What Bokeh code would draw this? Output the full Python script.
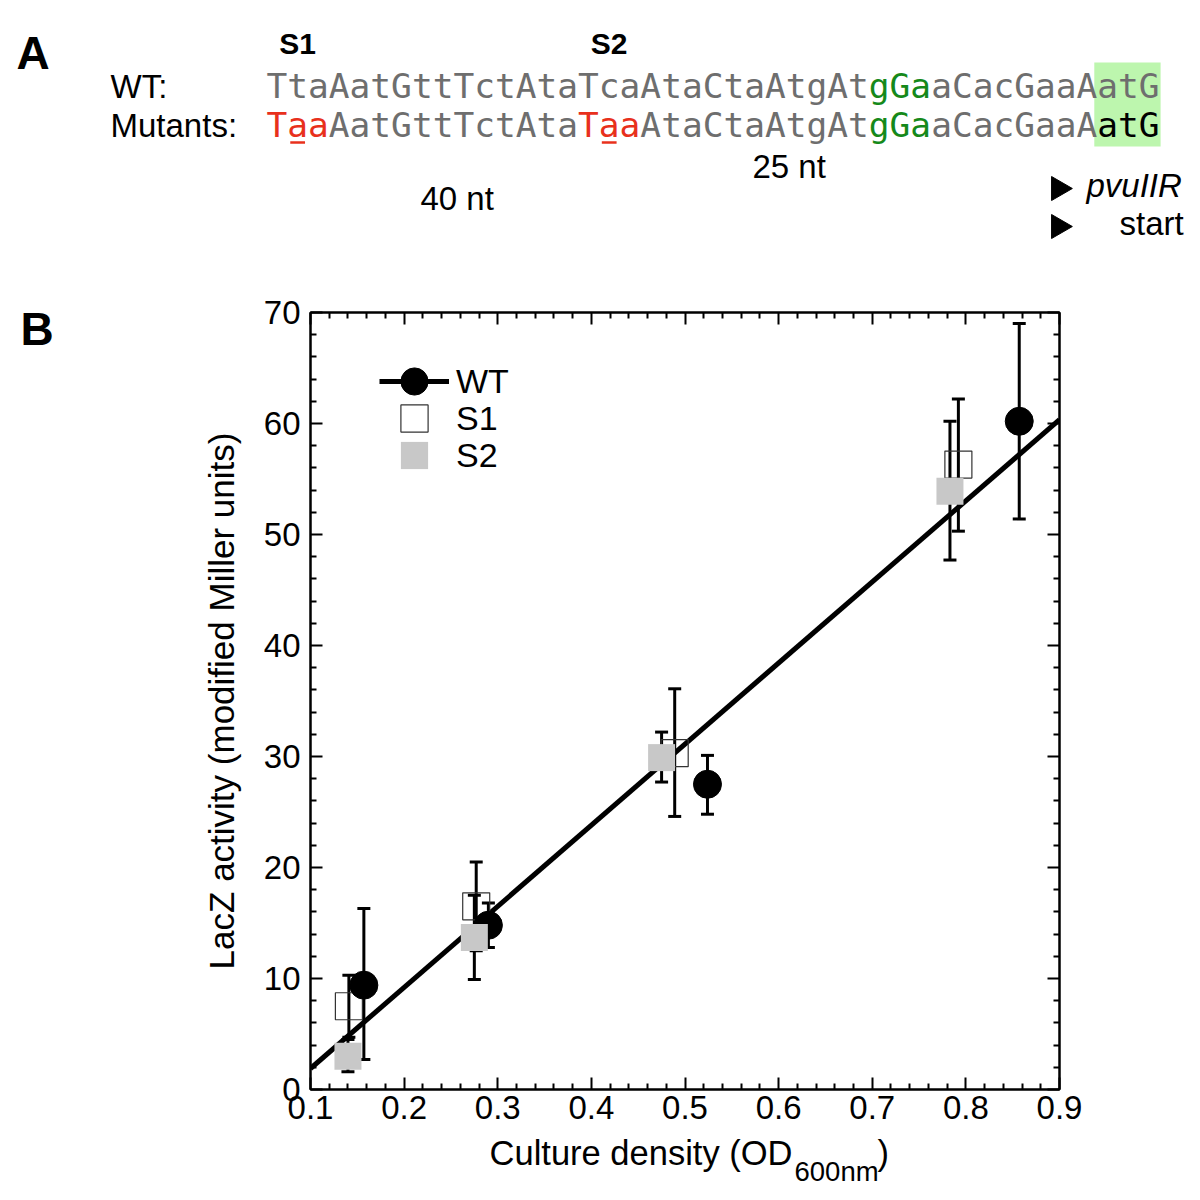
import numpy as np
from bokeh.plotting import figure
from bokeh.models import (Range1d, LinearAxis, FixedTicker, Whisker, ColumnDataSource,
                          Legend, LegendItem, TeeHead)
from bokeh.layouts import column, row
from bokeh.core.properties import value
from bokeh.embed import file_html
from bokeh.resources import INLINE

# ---------------- data (panel B) ----------------
wt_x = [0.157, 0.290, 0.524, 0.857]
wt_y = [9.4, 14.8, 27.5, 60.2]
wt_hi = [16.3, 16.8, 30.1, 69.0]
wt_lo = [2.7, 12.8, 24.8, 51.4]

s1_x = [0.141, 0.277, 0.489, 0.792]
s1_y = [7.5, 16.5, 30.3, 56.3]
s1_hi = [10.3, 20.5, 36.1, 62.2]
s1_lo = [4.7, 12.5, 24.6, 50.3]

s2_x = [0.140, 0.275, 0.475, 0.783]
s2_y = [3.0, 13.7, 29.9, 53.9]
s2_hi = [4.5, 17.5, 32.2, 60.2]
s2_lo = [1.6, 9.9, 27.7, 47.7]

series_names = ["WT", "S1", "S2"]
x_ticks = [0.1, 0.2, 0.3, 0.4, 0.5, 0.6, 0.7, 0.8, 0.9]
y_ticks = [0, 10, 20, 30, 40, 50, 60, 70]
x_label_main = "Culture density (OD"
x_label_sub = "600nm"
y_label = "LacZ activity (modified Miller units)"

# ---------------- data (panel A) ----------------
row_labels = ["WT:", "Mutants:"]
wt_segments = ["TtaAatGttTctAtaTcaAtaCtaAtgAt", "gGa", "aCacGaaA", "atG"]
wt_kinds = ["plain", "sd", "plain", "plain"]
mut_segments = ["T", "a", "a", "AatGttTctAta", "T", "a", "a", "AtaCtaAtgAt",
                "gGa", "aCacGaaA", "atG"]
mut_kinds = ["mut", "mut_ul", "mut", "plain", "mut", "mut_ul", "mut", "plain",
             "sd", "plain", "start"]
site_labels = ["S1", "S2"]
site_index = [0, 15]
dist_labels = ["40 nt", "25 nt"]
gene_labels = ["pvuIIR", "start"]

# ---------------- styles ----------------
SANS = value("Liberation Sans")
MONO = value("DejaVu Sans Mono")
kind_color = {"plain": "#6e6e6e", "sd": "#15891a", "mut": "#e8301c",
              "mut_ul": "#e8301c", "start": "#000000"}
BOX_GREEN = "#bdf6ae"
BASE_K = 0.35  # baseline offset below text middle, in em


def put_text(fig, x, base, txt, fs, font=SANS, style="normal", align="left", color="black"):
    fig.text(x=[x], y=[base - BASE_K * fs], text=[txt], text_font=font,
             text_font_size=f"{fs}px", text_font_style=style, text_align=align,
             text_baseline="middle", text_color=color)


def blank_fig(w, h, xr, yr):
    f = figure(width=w, height=h, x_range=Range1d(*xr), y_range=Range1d(*yr),
               output_backend="svg", toolbar_location=None, x_axis_location=None,
               y_axis_location=None, min_border=0, outline_line_color=None)
    f.grid.visible = False
    return f


# ---------------- panel A figure ----------------
ta = blank_fig(1192, 288, (0, 1192), (288, 0))

SEQ_X0 = 266.0
CW = 20.77
ROW_Y = [98, 137]
SEQ_FS = 34.5

n_chars = sum(len(s) for s in wt_segments)
ta.quad(left=[SEQ_X0 + (n_chars - 3) * CW - 3], right=[SEQ_X0 + n_chars * CW + 1],
        top=[62], bottom=[146], fill_color=BOX_GREEN, line_color=None)

put_text(ta, 16, 69, "A", 46, style="bold")

for lab, yy in zip(row_labels, ROW_Y):
    put_text(ta, 110, yy, lab, 33)

for segs, kinds, yy in [(wt_segments, wt_kinds, ROW_Y[0]), (mut_segments, mut_kinds, ROW_Y[1])]:
    idx = 0
    for s, k in zip(segs, kinds):
        x0 = SEQ_X0 + idx * CW
        put_text(ta, x0, yy, s, SEQ_FS, font=MONO, color=kind_color[k])
        if k == "mut_ul":
            ta.segment(x0=[x0 + 3], y0=[yy + 5], x1=[x0 + CW - 3], y1=[yy + 5],
                       line_color=kind_color[k], line_width=2.5)
        idx += len(s)

for lab, i0 in zip(site_labels, site_index):
    put_text(ta, SEQ_X0 + (i0 + 1.5) * CW, 53, lab, 30, style="bold", align="center")

put_text(ta, 420, 210, dist_labels[0], 33)
put_text(ta, 752, 178, dist_labels[1], 33)

ta.scatter(x=[1058, 1058], y=[188, 226], marker="triangle", angle=-np.pi / 2, size=24,
           color="black")
put_text(ta, 1086, 197, gene_labels[0], 33, style="italic")
put_text(ta, 1119, 235, gene_labels[1], 33)

# ---------------- "B" label figure ----------------
bf = blank_fig(100, 845, (0, 100), (1133, 288))
put_text(bf, 20, 322, "B", 46, style="bold")

# ---------------- panel B main plot ----------------
p = figure(width=1092, height=845, x_range=Range1d(x_ticks[0], x_ticks[-1]),
           y_range=Range1d(y_ticks[0], y_ticks[-1]),
           output_backend="svg", toolbar_location=None,
           min_border_left=210, min_border_right=133, min_border_top=24, min_border_bottom=44)
p.grid.visible = False
p.outline_line_color = "black"
p.outline_line_width = 2


def minor_of(ticks):
    out = []
    for a, b in zip(ticks[:-1], ticks[1:]):
        out.extend(np.linspace(a, b, 6)[1:-1].tolist())
    return out


top_ax = LinearAxis()
right_ax = LinearAxis()
p.add_layout(top_ax, "above")
p.add_layout(right_ax, "right")

xb = [a for a in p.xaxis if a is not top_ax][0]
yl = [a for a in p.yaxis if a is not right_ax][0]

for ax, tks in [(xb, x_ticks), (top_ax, x_ticks), (yl, y_ticks), (right_ax, y_ticks)]:
    ax.ticker = FixedTicker(ticks=tks, minor_ticks=minor_of(tks))
    ax.major_tick_in = 12
    ax.major_tick_out = 0
    ax.minor_tick_in = 6
    ax.minor_tick_out = 0
    ax.axis_line_width = 2
    ax.major_tick_line_width = 2
    ax.minor_tick_line_width = 2
    ax.axis_line_color = "black"
    ax.major_tick_line_color = "black"
    ax.minor_tick_line_color = "black"
    ax.major_label_text_font = "Liberation Sans"
    ax.major_label_text_font_size = "33px"
    ax.major_label_text_color = "black"
    ax.major_label_standoff = 6

for ax in (top_ax, right_ax):
    ax.major_label_text_font_size = "1px"
    ax.major_label_text_color = None
    ax.major_label_standoff = 0

yl.major_label_standoff = 10
yl.axis_label = y_label
yl.axis_label_text_font = "Liberation Sans"
yl.axis_label_text_font_size = "35px"
yl.axis_label_text_font_style = "normal"
yl.axis_label_text_color = "black"
yl.axis_label_standoff = 20

# fit line (least squares on WT data)
slope, intercept = np.polyfit(wt_x, wt_y, 1)
fit_x = [x_ticks[0], x_ticks[-1]]
fit_y = [slope * v + intercept for v in fit_x]
fit_r = p.line(fit_x, fit_y, line_color="black", line_width=5)

src_wt = ColumnDataSource(dict(x=wt_x, y=wt_y, hi=wt_hi, lo=wt_lo))
src_s1 = ColumnDataSource(dict(x=s1_x, y=s1_y, hi=s1_hi, lo=s1_lo))
src_s2 = ColumnDataSource(dict(x=s2_x, y=s2_y, hi=s2_hi, lo=s2_lo))

for src in (src_wt, src_s1, src_s2):
    p.add_layout(Whisker(source=src, base="x", upper="hi", lower="lo", dimension="height",
                         line_color="black", line_width=3,
                         upper_head=TeeHead(size=13, line_width=3, line_color="black"),
                         lower_head=TeeHead(size=13, line_width=3, line_color="black")))

s1_r = p.scatter("x", "y", source=src_s1, marker="square", size=27, fill_color=None,
                 line_color="#333333", line_width=1.2)
wt_r = p.scatter("x", "y", source=src_wt, marker="circle", size=28, fill_color="black",
                 line_color="black")
s2_r = p.scatter("x", "y", source=src_s2, marker="square", size=27, fill_color="#c8c8c8",
                 line_color=None)

# one single-row legend per series (lets markers be drawn at full size)
legend_rows = [([fit_r, wt_r], 674), ([s1_r], 637), ([s2_r], 600)]
for name, (rends, y_off) in zip(series_names, legend_rows):
    lg = Legend(items=[LegendItem(label=name, renderers=rends)],
                location=(69, y_off), glyph_width=70, glyph_height=68, label_height=68,
                spacing=0, padding=0, margin=0, label_standoff=7,
                label_text_font="Liberation Sans", label_text_font_size="34px",
                label_text_color="black", border_line_color=None,
                background_fill_alpha=0)
    p.add_layout(lg)

# ---------------- x-axis label figure ----------------
xl = blank_fig(1192, 59, (0, 1192), (1192, 1133))
put_text(xl, 792, 1165, x_label_main, 34.5, align="right")
put_text(xl, 794, 1181, x_label_sub, 27.5)
put_text(xl, 877, 1165, ")", 34.5)

layout = column(ta, row(bf, p), xl)
open("out.html", "w").write(file_html(layout, INLINE))
